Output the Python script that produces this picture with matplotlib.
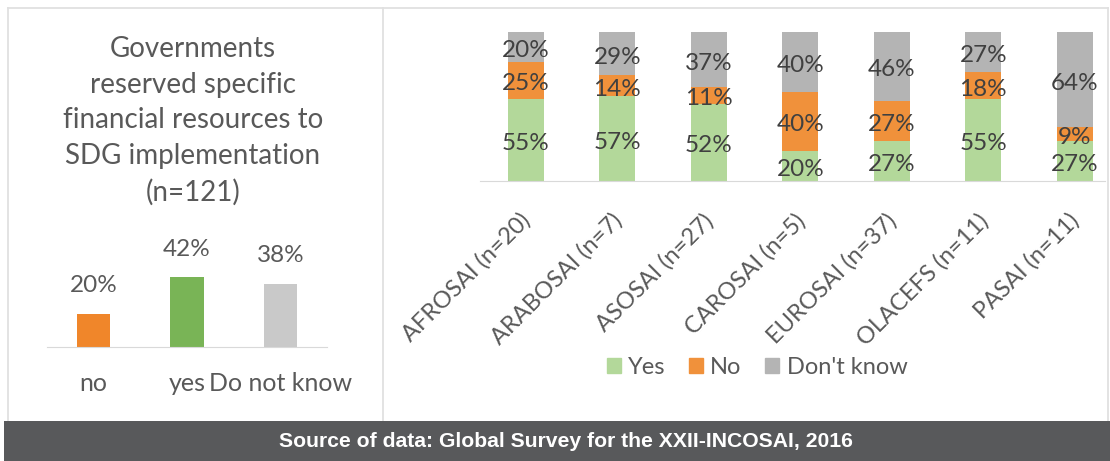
import matplotlib.pyplot as plt
from matplotlib.patches import Rectangle, Patch
from matplotlib.lines import Line2D

# left chart data
cats = ["no", "yes", "Do not know"]
cat_vals = [20, 42, 38]

# right chart data (% per region)
regions = ["AFROSAI (n=20)", "ARABOSAI (n=7)", "ASOSAI (n=27)", "CAROSAI (n=5)",
           "EUROSAI (n=37)", "OLACEFS (n=11)", "PASAI (n=11)"]
yes = [55, 57, 52, 20, 27, 55, 27]
no = [25, 14, 11, 40, 27, 18, 9]
dontknow = [20, 29, 37, 40, 46, 27, 64]

plt.rcParams['font.family'] = ['Lato', 'DejaVu Sans']
txt = '#595959'

W, H = 1110, 461
fig = plt.figure(figsize=(W/100, H/100), dpi=100)

def box(x0, y0, x1, y1):
    # pixel box (top-left origin) -> figure fraction [l, b, w, h]
    return [x0/W, 1-y1/H, (x1-x0)/W, (y1-y0)/H]

def line(x0, y0, x1, y1, c='#e0e0e0', lw=1.3):
    fig.add_artist(Line2D([x0/W, x1/W], [1-y0/H, 1-y1/H], color=c, lw=lw))

# panel borders
line(8, 8, 1108, 8)
line(8, 8, 8, 420)
line(383, 8, 383, 420)
line(1108, 8, 1108, 420)

# footer
fig.add_artist(Rectangle((4/W, 0), (W-4)/W, 40/H, transform=fig.transFigure,
                         color='#58595b', lw=0))
fig.text(566/W, 20/H, "Source of data: Global Survey for the XXII-INCOSAI, 2016",
         color='white', ha='center', va='center', fontsize=15.2, fontweight='bold',
         family=['Liberation Sans Narrow', 'Liberation Sans'])

# ---- left chart ----
fig.text(193/W, 1-121/H, "Governments\nreserved specific\nfinancial resources to\nSDG implementation\n(n=121)",
         ha='center', va='center', fontsize=20, color=txt, linespacing=1.45)

ax1 = fig.add_axes(box(47, 180, 327, 347))
cols1 = ['#f0862a', '#79b456', '#c9c9c9']
ax1.bar(range(3), cat_vals, width=0.354, color=cols1)
for i, v in enumerate(cat_vals):
    ax1.annotate(f"{v}%", (i, v), xytext=(0, 20), textcoords='offset points',
                 ha='center', va='center', fontsize=17.5, color=txt)
ax1.set_xlim(-0.5, 2.5)
ax1.set_ylim(0, 100)
ax1.set_xticks(range(3))
ax1.set_xticklabels(cats, fontsize=18, color=txt)
ax1.tick_params(axis='x', length=0, pad=18)
ax1.set_yticks([])
for s in ['top', 'right', 'left']:
    ax1.spines[s].set_visible(False)
ax1.spines['bottom'].set_color('#d9d9d9')

# ---- right chart ----
ax2 = fig.add_axes(box(480, 32, 1105, 181))
green, orange, grey = '#b3d89a', '#f0913b', '#b4b4b4'
x = range(len(regions))
bw = 0.39
ax2.bar(x, yes, width=bw, color=green)
ax2.bar(x, no, width=bw, bottom=yes, color=orange)
bot2 = [a + b for a, b in zip(yes, no)]
ax2.bar(x, dontknow, width=bw, bottom=bot2, color=grey)

for i in x:
    for base, v in [(0, yes[i]), (yes[i], no[i]), (bot2[i], dontknow[i])]:
        ax2.annotate(f"{v}%", (i, base + v/2), xytext=(0, -2.5), textcoords='offset points',
                     ha='center', va='center', fontsize=17.5, color='#404040')
    ax2.annotate(regions[i], (i, 0), xycoords=('data', 'axes fraction'),
                 xytext=(1, -26), textcoords='offset points', rotation=45,
                 rotation_mode='anchor', ha='right', va='center', fontsize=17, color=txt)

ax2.set_xlim(-0.5, -0.5 + 625/91.5)
ax2.set_ylim(0, 100)
ax2.set_xticks([])
ax2.set_yticks([])
for s in ['top', 'right', 'left']:
    ax2.spines[s].set_visible(False)
ax2.spines['bottom'].set_color('#d9d9d9')

handles = [Patch(color=green), Patch(color=orange), Patch(color=grey)]
leg = fig.legend(handles, ["Yes", "No", "Don't know"], loc='center',
                 bbox_to_anchor=(757/W, 1-367/H), ncol=3, frameon=False,
                 fontsize=17, handlelength=0.6, handleheight=0.6,
                 handletextpad=0.3, columnspacing=1.0)
for t in leg.get_texts():
    t.set_color(txt)

plt.savefig("out.png", dpi=100)
